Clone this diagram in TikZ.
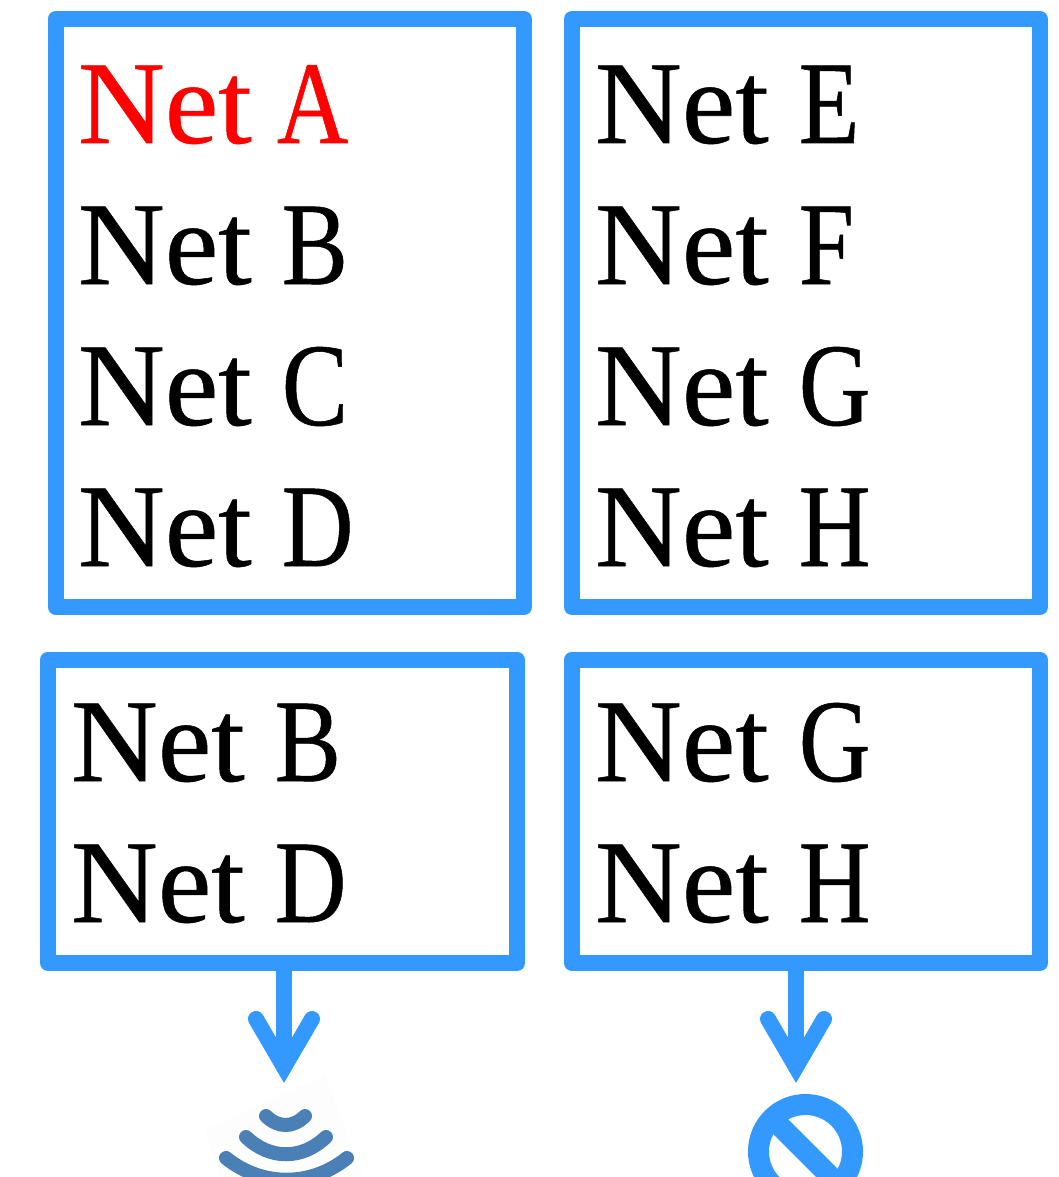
\documentclass[tikz,border=0pt]{standalone}
\usepackage{fontspec}
\setmainfont[FakeStretch=1.02,FakeBold=0.45,WordSpace=1.0]{Liberation Serif}
\newfontfamily\capfont[FakeStretch=0.84,FakeBold=0.45]{Liberation Serif}
\definecolor{boxblue}{HTML}{3399FF}
\definecolor{wifiblue}{HTML}{4A80B6}
\definecolor{wifibg}{HTML}{FDFDFD}
\tikzset{
  netbox/.style={draw=boxblue,line width=16pt,line join=round,rectangle,inner sep=0pt,outer sep=0pt,anchor=north west},
  nettext/.style={anchor=base west,inner sep=0pt,outer sep=0pt,font=\fontsize{118}{118}\selectfont,text=black},
  flowline/.style={draw=boxblue,line width=16pt,line cap=round,line join=miter},
  wifiarc/.style={draw=wifiblue,line width=14pt,line cap=round}
}
\begin{document}
\begin{tikzpicture}[x=1pt,y=-1pt]
\useasboundingbox (0,0) rectangle (1059,1177);
\clip (0,0) rectangle (1059,1177);
\node[netbox,minimum width=468.5pt,minimum height=588pt] (b1) at (55.5,19) {};
\node[netbox,minimum width=468pt,minimum height=588pt] (b2) at (572,19) {};
\node[netbox,minimum width=469pt,minimum height=303.5pt] (b3) at (48,659.5) {};
\node[netbox,minimum width=468pt,minimum height=303.5pt] (b4) at (572,659.5) {};
\node[nettext,text=red] (ta) at (78,143) {Net\kern-5pt\ {\capfont A}};
\node[nettext] (tb) at (78,284) {Net {\capfont B}};
\node[nettext] (tc) at (78,425) {Net {\capfont C}};
\node[nettext] (td) at (78,566) {Net {\capfont D}};
\node[nettext] (te) at (595,143) {Net {\capfont E}};
\node[nettext] (tf) at (595,284) {Net {\capfont F}};
\node[nettext] (tg) at (595,425) {Net {\capfont G}};
\node[nettext] (th) at (595,566) {Net {\capfont H}};
\node[nettext] (tb2) at (71,781) {Net {\capfont B}};
\node[nettext] (td2) at (71,922) {Net {\capfont D}};
\node[nettext] (tg2) at (595,781) {Net {\capfont G}};
\node[nettext] (th2) at (595,922) {Net {\capfont H}};
\coordinate (tipa) at (284,1067);
\coordinate (tipb) at (796,1067);
\draw[flowline] (tipa |- b3.south) -- (tipa);
\draw[flowline] (tipa) ++(-28,-48) -- (tipa) -- ++(28,-48);
\draw[flowline] (tipb |- b4.south) -- (tipb);
\draw[flowline] (tipb) ++(-28,-48) -- (tipb) -- ++(28,-48);
% wifi icon
\fill[wifibg] (325,1075) -- (363,1177) -- (220,1177) -- (205,1130) -- cycle;
\draw[wifiarc] (266,1116) .. controls (278,1128) and (293,1128) .. (305,1116);
\draw[wifiarc] (246,1137) .. controls (270,1160) and (302,1160) .. (326,1137);
\draw[wifiarc] (226,1158) .. controls (262,1187) and (311,1187) .. (347,1158);
% no-entry icon
\coordinate (nc) at (805.5,1151.5);
\draw[boxblue,line width=21pt] (nc) circle[radius=47];
\draw[boxblue,line width=21pt] (nc) ++(-33,-33) -- ++(66,66);
\end{tikzpicture}
\end{document}
